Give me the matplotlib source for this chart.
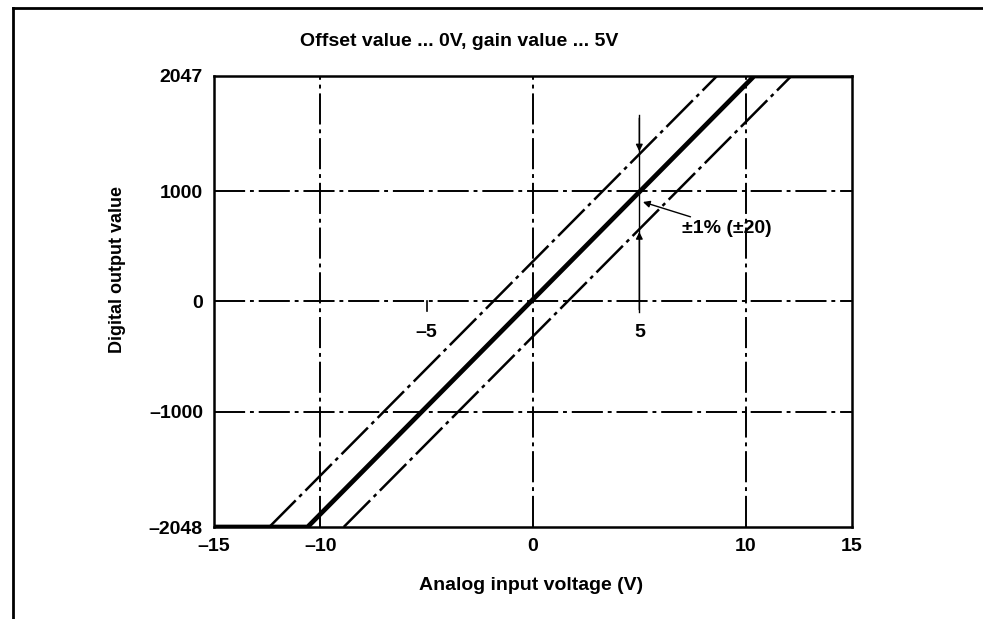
import numpy as np
import matplotlib.pyplot as plt
from matplotlib.lines import Line2D

plt.rcParams['font.family'] = ['Liberation Sans', 'DejaVu Sans']
plt.rcParams['font.weight'] = 'bold'

# Datos
x_centro = [-15, -10.6, 10.4, 15]
y_centro = [-2048, -2048, 2047, 2047]
x_sup = [-12.4, 8.65]
y_sup = [-2048, 2047]
x_inf = [-8.9, 12.15]
y_inf = [-2048, 2047]

xticks = [-15, -10, 0, 10, 15]
yticks = [-2048, -1000, 0, 1000, 2047]
xgrid = [-10, 0, 10]
ygrid = [-1000, 0, 1000]
x_marca = 5

fs = 14

fig = plt.figure(figsize=(9.83, 6.19), dpi=100)
ax = fig.add_axes([214 / 983, 1 - 527 / 619, 638 / 983, 451 / 619])

grid_ls = (0, (16, 2.5, 2, 2.5))
for g in ygrid:
    ax.axhline(g, color='black', lw=1.4, ls=grid_ls, zorder=1)
for g in xgrid:
    ax.axvline(g, color='black', lw=1.4, ls=grid_ls, zorder=1)

ax.plot(x_centro, y_centro, color='black', lw=3.4, solid_capstyle='butt', zorder=3)
ax.plot(x_sup, y_sup, color='black', lw=1.8, ls=(0, (15, 2, 1.5, 2)), zorder=3)
ax.plot(x_inf, y_inf, color='black', lw=1.8, ls=(0, (15, 2, 1.5, 2)), zorder=3)

ax.set_xlim(-15, 15)
ax.set_ylim(-2048, 2047)
ax.set_xticks(xticks)
ax.set_yticks(yticks)
ax.set_xticklabels([str(t).replace('-', '\u2013') for t in xticks])
ax.set_yticklabels([str(t).replace('-', '\u2013') for t in yticks])
ax.tick_params(length=0, labelsize=fs, pad=8)
for s in ax.spines.values():
    s.set_linewidth(1.8)

# Marcas -5 y 5 sobre el eje 0
ax.plot([-5, -5], [0, -90], color='black', lw=1.2, zorder=2)
ax.text(-5, -280, '\u20135', ha='center', va='center', fontsize=fs)
ax.text(5, -280, '5', ha='center', va='center', fontsize=fs)

# Flechas de tolerancia en x = 5
y_a = np.interp(x_marca, x_sup, y_sup)
y_b = np.interp(x_marca, x_inf, y_inf)
ax.plot([x_marca, x_marca], [1690, -100], color='black', lw=1.0, zorder=2)
ax.annotate('', xy=(x_marca, y_a), xytext=(x_marca, 1690),
            arrowprops=dict(arrowstyle='-|>', color='black', lw=1.0, mutation_scale=10))
ax.annotate('', xy=(x_marca, y_b), xytext=(x_marca, -100),
            arrowprops=dict(arrowstyle='-|>', color='black', lw=1.0, mutation_scale=10))

ax.annotate('\u00b11% (\u00b120)', xy=(5.17, 903), xytext=(7.0, 666),
            ha='left', va='center', fontsize=fs,
            arrowprops=dict(arrowstyle='-|>', color='black', lw=1.0, mutation_scale=10,
                            shrinkA=0, shrinkB=0))

fig.text(300 / 983, 1 - 42 / 619, 'Offset value ... 0V, gain value ... 5V',
         ha='left', va='center', fontsize=fs)
fig.text(531 / 983, 1 - 585 / 619, 'Analog input voltage (V)',
         ha='center', va='center', fontsize=fs)
fig.text(118 / 983, 1 - 270 / 619, 'Digital output value',
         ha='center', va='center', rotation=90, fontsize=13)

# Marco exterior
fig.add_artist(Line2D([13 / 983, 13 / 983], [0, 1 - 8 / 619], color='black', lw=2))
fig.add_artist(Line2D([13 / 983, 1], [1 - 8 / 619, 1 - 8 / 619], color='black', lw=2))

fig.savefig('out.png', dpi=100)
